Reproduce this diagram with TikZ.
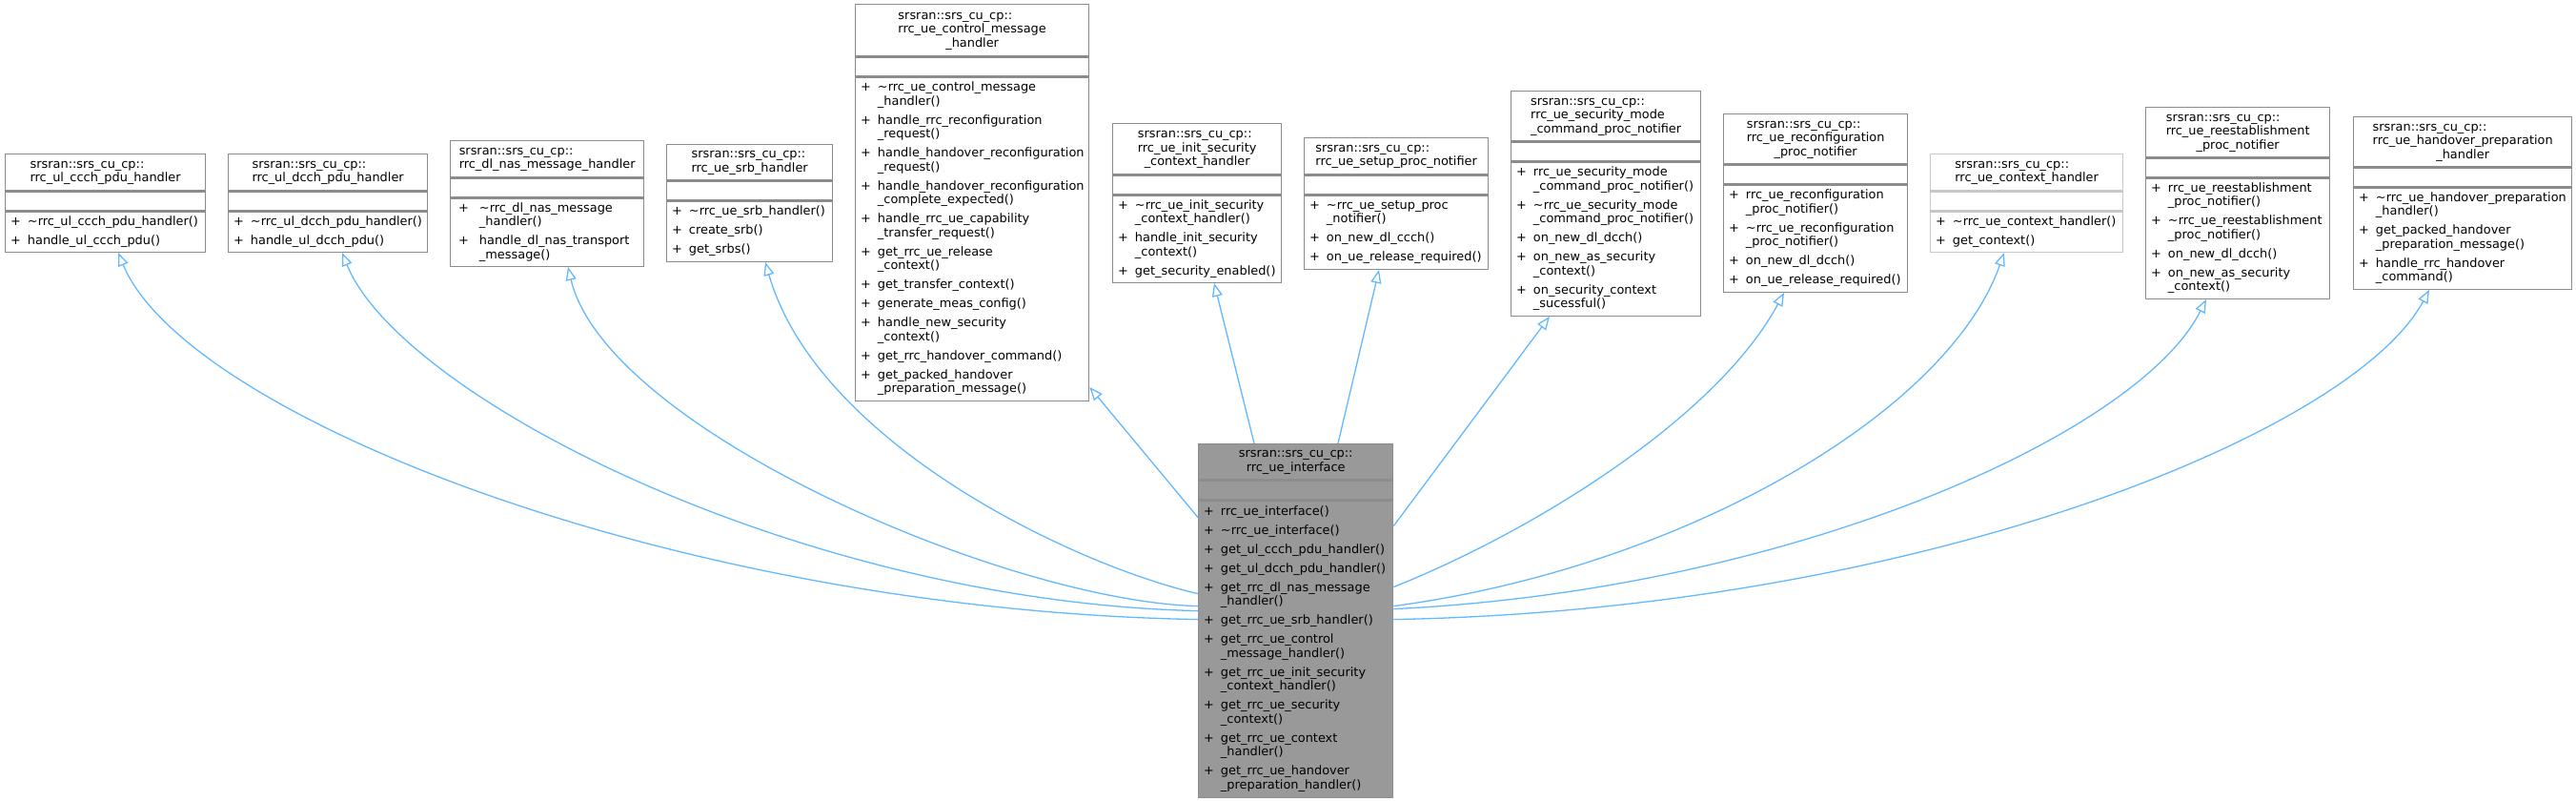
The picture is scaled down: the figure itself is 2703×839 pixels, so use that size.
\documentclass[tikz,border=0pt]{standalone}
\usepackage{fontspec}
\setmainfont{DejaVu Sans}
\usetikzlibrary{arrows.meta,positioning}
\setlength{\parindent}{0pt}
\definecolor{edgeblue}{RGB}{99,184,255}
\newcommand{\dx}{\fontsize{12.9pt}{14.5pt}\selectfont}
\newcommand{\tld}{\textasciitilde}
\newcommand{\ttl}[2]{\begin{tabular}{@{}l@{}}#1\\\multicolumn{1}{@{}c@{}}{#2}\end{tabular}}
\newcommand{\mbr}[1]{\begin{tabular}{@{}l@{\hspace{7pt}}l@{}}#1\end{tabular}}
\tikzset{
  cls/.style={draw=black!45,line width=1.3pt,fill=white,inner xsep=5.5pt,inner ysep=0pt,font=\dx,anchor=north},
  clst/.style={cls,align=center},
  clse/.style={cls,minimum height=20pt},
  clsm/.style={cls,align=left},
  hot/.style={fill=black!40},
  undoc/.style={draw=black!22},
  inh/.style={-{Triangle[open,length=14pt,width=11pt]},line width=1.3pt,draw=edgeblue}
}
\begin{document}
\begin{tikzpicture}[x=1pt,y=-1pt]
  \useasboundingbox (0,0) rectangle (2703,839);
  % ul ccch
  \node[clst,minimum width=210pt,minimum height=38pt,anchor=north west] (ccchT) at (5,161) {\ttl{srsran::srs\_cu\_cp::}{rrc\_ul\_ccch\_pdu\_handler}};
  \node[clse,minimum width=210pt,below=0pt of ccchT] (ccchE) {};
  \node[clsm,text width=199pt,minimum height=42pt,below=0pt of ccchE] (ccchM) {\mbr{+ & \tld rrc\_ul\_ccch\_pdu\_handler()\\[5.5pt]
    + & handle\_ul\_ccch\_pdu()}};
  % ul dcch
  \node[clst,minimum width=209pt,minimum height=38pt,anchor=north west] (dcchT) at (239,161) {\ttl{srsran::srs\_cu\_cp::}{rrc\_ul\_dcch\_pdu\_handler}};
  \node[clse,minimum width=209pt,below=0pt of dcchT] (dcchE) {};
  \node[clsm,text width=198pt,minimum height=42pt,below=0pt of dcchE] (dcchM) {\mbr{+ & \tld rrc\_ul\_dcch\_pdu\_handler()\\[5.5pt]
    + & handle\_ul\_dcch\_pdu()}};
  % dl nas
  \node[clst,minimum width=203pt,minimum height=38pt,anchor=north west] (dlnasT) at (472,147) {\ttl{srsran::srs\_cu\_cp::}{rrc\_dl\_nas\_message\_handler}};
  \node[clse,minimum width=203pt,below=0pt of dlnasT] (dlnasE) {};
  \node[clsm,text width=192pt,minimum height=71pt,below=0pt of dlnasE] (dlnasM) {\begin{tabular}{@{\hspace{3pt}}l@{\hspace{11pt}}l@{}}+ & \tld rrc\_dl\_nas\_message\\ & \_handler()\\[5.5pt]
    + & handle\_dl\_nas\_transport\\ & \_message()\end{tabular}};
  % srb
  \node[clst,minimum width=174pt,minimum height=37pt,anchor=north west] (srbT) at (699,151) {\ttl{srsran::srs\_cu\_cp::}{rrc\_ue\_srb\_handler}};
  \node[clse,minimum width=174pt,below=0pt of srbT] (srbE) {};
  \node[clsm,text width=163pt,minimum height=63pt,below=0pt of srbE] (srbM) {\mbr{+ & \tld rrc\_ue\_srb\_handler()\\[5.5pt]
    + & create\_srb()\\[5.5pt]
    + & get\_srbs()}};
  % control message
  \node[clst,minimum width=245pt,minimum height=54pt,anchor=north west] (ctrlT) at (897,4) {\ttl{srsran::srs\_cu\_cp::\\rrc\_ue\_control\_message}{\_handler}};
  \node[clse,minimum width=245pt,below=0pt of ctrlT] (ctrlE) {};
  \node[clsm,text width=234pt,minimum height=339pt,below=0pt of ctrlE] (ctrlM) {\mbr{+ & \tld rrc\_ue\_control\_message\\ & \_handler()\\[5.5pt]
    + & handle\_rrc\_reconfiguration\\ & \_request()\\[5.5pt]
    + & handle\_handover\_reconfiguration\\ & \_request()\\[5.5pt]
    + & handle\_handover\_reconfiguration\\ & \_complete\_expected()\\[5.5pt]
    + & handle\_rrc\_ue\_capability\\ & \_transfer\_request()\\[5.5pt]
    + & get\_rrc\_ue\_release\\ & \_context()\\[5.5pt]
    + & get\_transfer\_context()\\[5.5pt]
    + & generate\_meas\_config()\\[5.5pt]
    + & handle\_new\_security\\ & \_context()\\[5.5pt]
    + & get\_rrc\_handover\_command()\\[5.5pt]
    + & get\_packed\_handover\\ & \_preparation\_message()}};
  % init security
  \node[clst,minimum width=177pt,minimum height=53pt,anchor=north west] (initsecT) at (1167,129) {\ttl{srsran::srs\_cu\_cp::\\rrc\_ue\_init\_security}{\_context\_handler}};
  \node[clse,minimum width=177pt,below=0pt of initsecT] (initsecE) {};
  \node[clsm,text width=166pt,minimum height=91pt,below=0pt of initsecE] (initsecM) {\mbr{+ & \tld rrc\_ue\_init\_security\\ & \_context\_handler()\\[5.5pt]
    + & handle\_init\_security\\ & \_context()\\[5.5pt]
    + & get\_security\_enabled()}};
  % setup proc
  \node[clst,minimum width=193pt,minimum height=38pt,anchor=north west] (setupT) at (1368,144) {\ttl{srsran::srs\_cu\_cp::}{rrc\_ue\_setup\_proc\_notifier}};
  \node[clse,minimum width=193pt,below=0pt of setupT] (setupE) {};
  \node[clsm,text width=182pt,minimum height=77pt,below=0pt of setupE] (setupM) {\mbr{+ & \tld rrc\_ue\_setup\_proc\\ & \_notifier()\\[5.5pt]
    + & on\_new\_dl\_ccch()\\[5.5pt]
    + & on\_ue\_release\_required()}};
  % security mode
  \node[clst,minimum width=199pt,minimum height=52pt,anchor=north west] (secmodeT) at (1585,95) {\ttl{srsran::srs\_cu\_cp::\\rrc\_ue\_security\_mode}{\_command\_proc\_notifier}};
  \node[clse,minimum width=199pt,below=0pt of secmodeT] (secmodeE) {};
  \node[clsm,text width=188pt,minimum height=161pt,below=0pt of secmodeE] (secmodeM) {\mbr{+ & rrc\_ue\_security\_mode\\ & \_command\_proc\_notifier()\\[5.5pt]
    + & \tld rrc\_ue\_security\_mode\\ & \_command\_proc\_notifier()\\[5.5pt]
    + & on\_new\_dl\_dcch()\\[5.5pt]
    + & on\_new\_as\_security\\ & \_context()\\[5.5pt]
    + & on\_security\_context\\ & \_sucessful()}};
  % reconfiguration
  \node[clst,minimum width=193pt,minimum height=52pt,anchor=north west] (reconfT) at (1808,119) {\ttl{srsran::srs\_cu\_cp::\\rrc\_ue\_reconfiguration}{\_proc\_notifier}};
  \node[clse,minimum width=193pt,below=0pt of reconfT] (reconfE) {};
  \node[clsm,text width=182pt,minimum height=112pt,below=0pt of reconfE] (reconfM) {\mbr{+ & rrc\_ue\_reconfiguration\\ & \_proc\_notifier()\\[5.5pt]
    + & \tld rrc\_ue\_reconfiguration\\ & \_proc\_notifier()\\[5.5pt]
    + & on\_new\_dl\_dcch()\\[5.5pt]
    + & on\_ue\_release\_required()}};
  % context
  \node[clst,undoc,minimum width=202pt,minimum height=38pt,anchor=north west] (ctxT) at (2025,161) {\ttl{srsran::srs\_cu\_cp::}{rrc\_ue\_context\_handler}};
  \node[clse,undoc,minimum width=202pt,below=0pt of ctxT] (ctxE) {};
  \node[clsm,undoc,text width=191pt,minimum height=42pt,below=0pt of ctxE] (ctxM) {\mbr{+ & \tld rrc\_ue\_context\_handler()\\[5.5pt]
    + & get\_context()}};
  % reestablishment
  \node[clst,minimum width=193pt,minimum height=52pt,anchor=north west] (reestT) at (2251,112) {\ttl{srsran::srs\_cu\_cp::\\rrc\_ue\_reestablishment}{\_proc\_notifier}};
  \node[clse,minimum width=193pt,below=0pt of reestT] (reestE) {};
  \node[clsm,text width=182pt,minimum height=126pt,below=0pt of reestE] (reestM) {\mbr{+ & rrc\_ue\_reestablishment\\ & \_proc\_notifier()\\[5.5pt]
    + & \tld rrc\_ue\_reestablishment\\ & \_proc\_notifier()\\[5.5pt]
    + & on\_new\_dl\_dcch()\\[5.5pt]
    + & on\_new\_as\_security\\ & \_context()}};
  % handover preparation
  \node[clst,minimum width=229pt,minimum height=52pt,anchor=north west] (hoprepT) at (2469,122) {\ttl{srsran::srs\_cu\_cp::\\rrc\_ue\_handover\_preparation}{\_handler}};
  \node[clse,minimum width=229pt,below=0pt of hoprepT] (hoprepE) {};
  \node[clsm,text width=218pt,minimum height=106pt,below=0pt of hoprepE] (hoprepM) {\mbr{+ & \tld rrc\_ue\_handover\_preparation\\ & \_handler()\\[5.5pt]
    + & get\_packed\_handover\\ & \_preparation\_message()\\[5.5pt]
    + & handle\_rrc\_handover\\ & \_command()}};
  % interface
  \node[clst,hot,minimum width=204pt,minimum height=37pt,anchor=north west] (ifT) at (1257,465) {\ttl{srsran::srs\_cu\_cp::}{rrc\_ue\_interface}};
  \node[clse,hot,minimum width=204pt,below=0pt of ifT] (ifE) {};
  \node[clsm,hot,text width=193pt,minimum height=311pt,below=0pt of ifE] (ifM) {\mbr{+ & rrc\_ue\_interface()\\[5.5pt]
    + & \tld rrc\_ue\_interface()\\[5.5pt]
    + & get\_ul\_ccch\_pdu\_handler()\\[5.5pt]
    + & get\_ul\_dcch\_pdu\_handler()\\[5.5pt]
    + & get\_rrc\_dl\_nas\_message\\ & \_handler()\\[5.5pt]
    + & get\_rrc\_ue\_srb\_handler()\\[5.5pt]
    + & get\_rrc\_ue\_control\\ & \_message\_handler()\\[5.5pt]
    + & get\_rrc\_ue\_init\_security\\ & \_context\_handler()\\[5.5pt]
    + & get\_rrc\_ue\_security\\ & \_context()\\[5.5pt]
    + & get\_rrc\_ue\_context\\ & \_handler()\\[5.5pt]
    + & get\_rrc\_ue\_handover\\ & \_preparation\_handler()}};
  % edges to the left
  \draw[inh] ([yshift=-125pt]ifM.north west) .. controls +(-550,-10) and +(70,170) .. ([xshift=119pt]ccchM.south west);
  \draw[inh] ([yshift=-116pt]ifM.north west) .. controls +(-420,-10) and +(60,150) .. ([xshift=120pt]dcchM.south west);
  \draw[inh] ([yshift=-111pt]ifM.north west) .. controls +(-200,-5) and +(40,170) .. ([xshift=124pt]dlnasM.south west);
  \draw[inh] ([yshift=-98pt]ifM.north west) .. controls +(-130,-30) and +(55,190) .. ([xshift=104pt]srbM.south west);
  \draw[inh] ([yshift=-18pt]ifM.north west) -- ([yshift=15pt]ctrlM.south east);
  % edges on top
  \draw[inh] ([xshift=59pt]ifT.north west) -- ([xshift=107pt]initsecM.south west);
  \draw[inh] ([xshift=147pt]ifT.north west) -- ([xshift=79pt]setupM.south west);
  % edges to the right
  \draw[inh] ([yshift=-27pt]ifM.north east) -- ([xshift=41pt]secmodeM.south west);
  \draw[inh] ([yshift=-91pt]ifM.north east) .. controls +(150,-60) and +(-70,130) .. ([xshift=64pt]reconfM.south west);
  \draw[inh] ([yshift=-111pt]ifM.north east) .. controls +(300,-40) and +(-60,170) .. ([xshift=78pt]ctxM.south west);
  \draw[inh] ([yshift=-114pt]ifM.north east) .. controls +(420,-20) and +(-70,140) .. ([xshift=64pt]reestM.south west);
  \draw[inh] ([yshift=-125pt]ifM.north east) .. controls +(550,-10) and +(-80,150) .. ([xshift=80pt]hoprepM.south west);
\end{tikzpicture}
\end{document}
